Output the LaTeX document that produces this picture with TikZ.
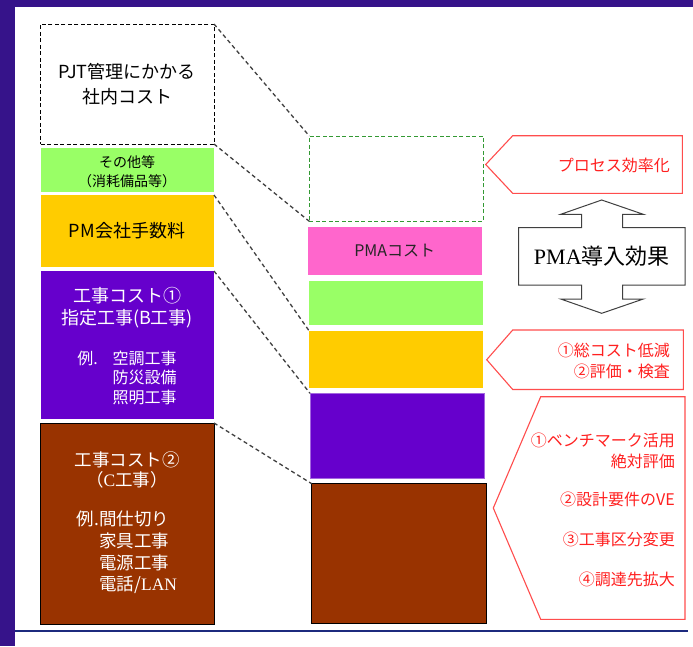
\documentclass[tikz,border=0pt]{standalone}
\usepackage{fontspec}
\setmainfont{Noto Sans CJK JP}
\newfontfamily\serifen{Liberation Serif}
\definecolor{frame}{HTML}{36138A}
\definecolor{navy}{HTML}{1C2A7E}
\definecolor{lgreen}{HTML}{99FF66}
\definecolor{gold}{HTML}{FFCC00}
\definecolor{violet2}{HTML}{6600CC}
\definecolor{brown2}{HTML}{993300}
\definecolor{pink2}{HTML}{FF66CC}
\definecolor{dgreen}{HTML}{339933}
\definecolor{redline}{HTML}{FF4D4D}
\definecolor{redtext}{HTML}{FF2020}
\definecolor{conngray}{HTML}{404040}
\tikzset{
  box/.style={anchor=north west, inner sep=0pt, outer sep=0pt},
  txt/.style={inner sep=0pt, align=center},
  conn/.style={draw=conngray, line width=1.3pt, dash pattern=on 4pt off 3pt},
  boxdash/.style={line width=0.9pt, dash pattern=on 4pt off 2.5pt},
  callout/.style={draw=redline, line width=1.1pt, fill=white},
  rtxt/.style={inner sep=0pt, anchor=east, align=right, text=redtext, font=\fontsize{16}{21}\selectfont},
}
\begin{document}
\begin{tikzpicture}[x=1pt,y=-1pt]
\useasboundingbox (0,0) rectangle (693,646);
\fill[white] (0,0) rectangle (693,646);
% frame
\fill[frame] (0,0) rectangle (15,646);
\fill[frame] (0,0) rectangle (693,7);
\draw[navy, line width=2.6pt] (15,631) -- (688,631);

% left column
\node[box, draw=black, boxdash, fill=white, minimum width=173.3pt, minimum height=120pt] (pjt) at (40.7,24) {};
\node[box, fill=lgreen, minimum width=173.3pt, minimum height=44pt] (oth) at (40.7,148) {};
\node[box, fill=gold, minimum width=173.3pt, minimum height=72pt] (pmf) at (40.7,195) {};
\node[box, fill=violet2, minimum width=173.3pt, minimum height=148pt] (ccb) at (40.7,271) {};
\node[box, fill=brown2, draw=black, line width=0.9pt, minimum width=173.3pt, minimum height=201pt] (ccc) at (40.7,423) {};

% right column
\node[box, draw=dgreen, boxdash, fill=white, minimum width=174pt, minimum height=85.3pt] (eff) at (309.3,136) {};
\node[box, fill=pink2, minimum width=174pt, minimum height=48.6pt] (pma) at (307.7,226.7) {};
\node[box, fill=lgreen, minimum width=174pt, minimum height=43.7pt] (rgr) at (309,281) {};
\node[box, fill=gold, minimum width=174pt, minimum height=57.6pt] (rye) at (309,330.7) {};
\node[box, fill=violet2, draw=violet2!60!white, line width=0.6pt, minimum width=174pt, minimum height=85.4pt] (rvi) at (310,393.3) {};
\node[box, fill=brown2, draw=black, line width=0.9pt, minimum width=174.3pt, minimum height=140pt] (rbr) at (311.7,483.7) {};

% connectors
\draw[conn] (pjt.north east) -- (eff.north west);
\draw[conn] (pjt.south east) -- (eff.south west);
\draw[conn] (pmf.north east) -- (rye.north west);
\draw[conn] (ccb.north east) -- (rvi.north west);
\draw[conn] (ccc.north east) -- (rbr.north west);

% left texts
\node[txt, font=\fontsize{18}{25}\selectfont] (pjtt) at (127,84.5) {PJT管理にかかる\\社内コスト};
\node[txt, font=\fontsize{14}{19}\selectfont] (otht) at (127,171.5) {その他等\\（消耗備品等）};
\node[txt, font=\fontsize{18}{22}\selectfont] (pmft) at (127,231) {PM会社手数料};
\node[txt, text=white, font=\fontsize{18}{22}\selectfont] (ccbt) at (127,307.5) {工事コスト①\\指定工事(B工事)};
\node[txt, text=white, font=\fontsize{16}{19}\selectfont] (ccbe) at (127,380) {\begin{tabular}{@{}l@{\hspace{15pt}}l@{}}例. & 空調工事\\ & 防災設備\\ & 照明工事\end{tabular}};
\node[txt, text=white, font=\fontsize{17.5}{20.5}\selectfont] (ccct) at (127,470) {工事コスト②\\（{\serifen C}工事）};
\node[txt, text=white, font=\fontsize{17.5}{21.7}\selectfont] (ccce) at (127,554) {\begin{tabular}{@{}l@{}l@{}}例. & 間仕切り\\ & 家具工事\\ & 電源工事\\ &電話/{\serifen LAN}\end{tabular}};

% right texts
\node[txt, text=black!85, font=\fontsize{16}{20}\selectfont] (pmat) at (pma.center) {PMAコスト};

% callouts
\draw[callout] (485.7,164.5) -- (512.7,135.7) -- (682.3,135.7) -- (682.3,193.3) -- (512.7,193.3) -- cycle;
\draw[callout] (486.7,359.7) -- (512.7,330) -- (683.3,330) -- (683.3,389.5) -- (512.7,389.5) -- cycle;
\draw[callout] (493.3,508) -- (540.7,396.7) -- (685,396.7) -- (685,619.3) -- (540.7,619.3) -- cycle;

\node[rtxt] (prc) at (670,165) {プロセス効率化};
\node[rtxt] (tcr) at (670,360.5) {①総コスト低減\\②評価・検査};
\node[rtxt] (bm) at (675,450.5) {①ベンチマーク活用\\絶対評価};
\node[rtxt] (ve) at (675,499) {②設計要件のVE};
\node[rtxt] (kb) at (675,539) {③工事区分変更};
\node[rtxt] (ch) at (675,579) {④調達先拡大};

% double arrow
\draw[draw=black!75, line width=1pt, fill=white]
  (601.7,200) -- (643.3,214.3) -- (622.7,214.3) -- (622.7,227.7) -- (685,227.7) -- (685,285)
  -- (622.7,285) -- (622.7,299) -- (643.3,299) -- (601.7,313.3) -- (560.7,299) -- (581.7,299)
  -- (581.7,285) -- (518.7,285) -- (518.7,227.7) -- (581.7,227.7) -- (581.7,214.3) -- (560.7,214.3) -- cycle;
\node[txt, font=\fontsize{22}{26}\selectfont] (eff2) at (601.8,256.3) {{\serifen PMA}導入効果};
\end{tikzpicture}
\end{document}
